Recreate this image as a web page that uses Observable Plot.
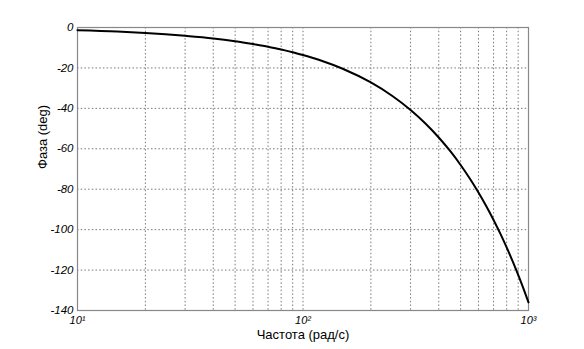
<!DOCTYPE html>
<html>
<head>
<meta charset="utf-8">
<script src="https://cdn.jsdelivr.net/npm/d3@7"></script>
<script src="https://cdn.jsdelivr.net/npm/@observablehq/plot@0.6"></script>
<style>
  html, body { margin: 0; padding: 0; background: #fff; }
  #chart svg { display: block; }
</style>
</head>
<body>
<div id="chart"></div>
<script>
// Frequencies (rad/s) and phase (deg)
const freq  = [10, 15, 20, 30, 40, 50, 60, 70, 80, 90, 100, 120, 150, 200, 250, 300, 350, 400, 450, 500, 550, 600, 650, 700, 750, 800, 850, 900, 950, 1000];
const phase = [-1.4, -2, -2.7, -4.1, -5.4, -6.8, -8.2, -9.5, -10.9, -12.2, -13.6, -16.3, -20.4, -27.2, -34, -40.8, -47.6, -54.4, -61.2, -68, -74.8, -81.6, -88.4, -95.2, -102, -108.8, -115.6, -122.4, -129.2, -136];

const xTicks = [10, 100, 1000];
const xTickLabels = ["10¹", "10²", "10³"];
const xGrid = [20, 30, 40, 50, 60, 70, 80, 90, 100, 200, 300, 400, 500, 600, 700, 800, 900];
const yTicks = [0, -20, -40, -60, -80, -100, -120, -140];
const yGrid = [-20, -40, -60, -80, -100, -120];

const xLabel = "Частота (рад/с)";
const yLabel = "Фаза (deg)";

const data = freq.map((f, i) => ({f, p: phase[i]}));

const chart = Plot.plot({
  width: 584,
  height: 349,
  marginLeft: 77,
  marginRight: 56,
  marginTop: 27,
  marginBottom: 39,
  style: {fontFamily: "'Liberation Sans', Arial, sans-serif", background: "#fff", color: "#000"},
  x: {type: "log", domain: [10, 1000]},
  y: {domain: [-140, 0]},
  marks: [
    Plot.gridX(xGrid, {stroke: "#777", strokeOpacity: 1, strokeDasharray: "1.5,2.2", strokeWidth: 1}),
    Plot.gridY(yGrid, {stroke: "#777", strokeOpacity: 1, strokeDasharray: "1.5,2.2", strokeWidth: 1}),
    Plot.frame({stroke: "#888", strokeWidth: 1.2}),
    Plot.axisX(xTicks, {tickSize: 0, tickPadding: 6, fontSize: 11, fontStyle: "italic",
      tickFormat: (d) => xTickLabels[xTicks.indexOf(d)], label: null}),
    Plot.axisY(yTicks, {tickSize: 0, tickPadding: 4, fontSize: 11.5, fontStyle: "italic",
      tickFormat: (d) => String(d).replace("−", "-"), label: null}),
    Plot.line(data, {x: "f", y: "p", stroke: "#000", strokeWidth: 2, curve: "monotone-x"}),
    Plot.text([xLabel], {frameAnchor: "bottom", dy: 28, fontSize: 13, fill: "#000"}),
    Plot.text([yLabel], {frameAnchor: "left", dx: -35, rotate: -90, fontSize: 13, fill: "#000"})
  ]
});
document.getElementById("chart").appendChild(chart);
</script>
</body>
</html>
